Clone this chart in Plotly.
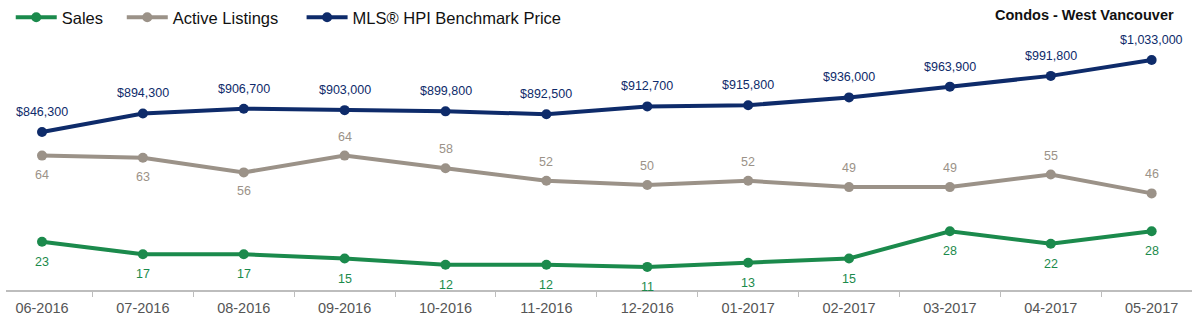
import plotly.graph_objects as go

months = ["06-2016", "07-2016", "08-2016", "09-2016", "10-2016", "11-2016",
          "12-2016", "01-2017", "02-2017", "03-2017", "04-2017", "05-2017"]
sales = [23, 17, 17, 15, 12, 12, 11, 13, 15, 28, 22, 28]
listings = [64, 63, 56, 64, 58, 52, 50, 52, 49, 49, 55, 46]
price = [846300, 894300, 906700, 903000, 899800, 892500, 912700, 915800,
         936000, 963900, 991800, 1033000]
listing_label_above = [False, False, False, True, True, True, True, True, True, True, True, True]

GREEN = "#1b8a4c"
GRAY = "#9b9288"
NAVY = "#0e2b6a"
FONT = "Liberation Sans, Arial, Helvetica, sans-serif"
NB = "\u00a0"

fig = go.Figure()
fig.add_trace(go.Scatter(x=months, y=sales, name="Sales" + NB * 3, mode="lines+markers",
                         line=dict(color=GREEN, width=4), marker=dict(size=10, color=GREEN)))
fig.add_trace(go.Scatter(x=months, y=listings, name="Active Listings" + NB * 4, mode="lines+markers",
                         line=dict(color=GRAY, width=4), marker=dict(size=10, color=GRAY)))
fig.add_trace(go.Scatter(x=months, y=price, name="MLS® HPI Benchmark Price", mode="lines+markers",
                         line=dict(color=NAVY, width=4), marker=dict(size=10, color=NAVY),
                         yaxis="y2"))

ann = []
for m, v in zip(months, sales):
    ann.append(dict(x=m, y=v, xref="x", yref="y", text=str(v), showarrow=False,
                    yshift=-20, font=dict(size=12.5, color=GREEN, family=FONT)))
for m, v, up in zip(months, listings, listing_label_above):
    ann.append(dict(x=m, y=v, xref="x", yref="y", text=str(v), showarrow=False,
                    yshift=19 if up else -19, font=dict(size=12.5, color=GRAY, family=FONT)))
for m, v in zip(months, price):
    ann.append(dict(x=m, y=v, xref="x", yref="y2", text="${:,}".format(v), showarrow=False,
                    yshift=20, font=dict(size=12.5, color=NAVY, family=FONT)))
ann.append(dict(x=1, y=1, xref="paper", yref="paper", xanchor="right", yanchor="top",
                xshift=-16, yshift=-5, text="<b>Condos - West Vancouver</b>", showarrow=False,
                font=dict(size=14.5, color="#111111", family=FONT)))

fig.update_layout(
    width=1192, height=324,
    margin=dict(l=6, r=0, t=0, b=34),
    paper_bgcolor="white", plot_bgcolor="white",
    font=dict(family=FONT),
    annotations=ann,
    showlegend=True,
    legend=dict(orientation="h", x=0.004, y=1, xanchor="left", yanchor="top",
                font=dict(size=16.5, color="#111111", family=FONT),
                bgcolor="rgba(0,0,0,0)", itemwidth=41, tracegroupgap=0),
    xaxis=dict(type="category", range=[-0.357, 11.40], showgrid=False,
               showline=True, linecolor="#bdbdbd", linewidth=1.5,
               ticks="outside", tickson="boundaries", ticklen=5, tickcolor="#bdbdbd",
               ticklabelstandoff=4,
               tickfont=dict(size=14.5, color="#555555", family=FONT), zeroline=False),
    yaxis=dict(range=[0, 138.1], visible=False, showgrid=False, zeroline=False),
    yaxis2=dict(range=[436700, 1188500], overlaying="y", side="right", visible=False,
                showgrid=False, zeroline=False),
)

fig.write_html("out.html")
